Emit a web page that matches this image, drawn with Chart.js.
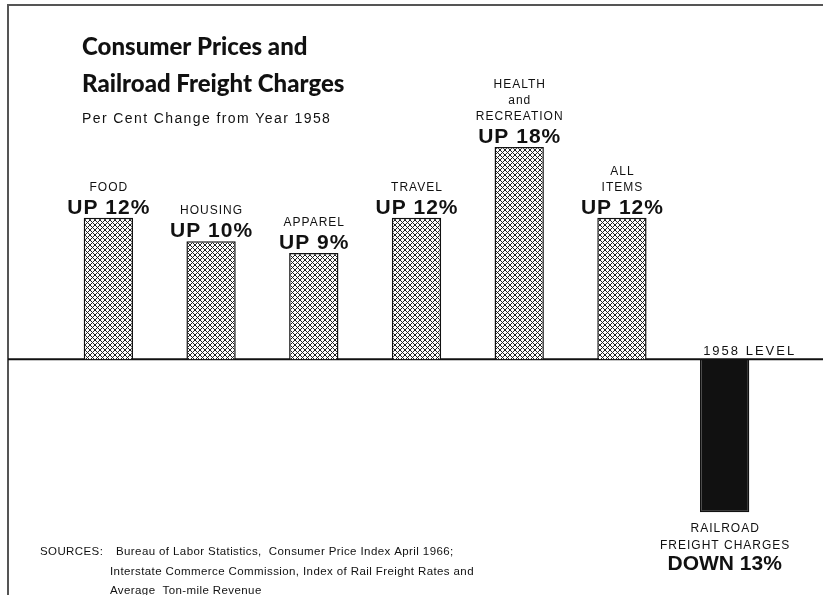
<!DOCTYPE html>
<html><head><meta charset="utf-8">
<script src="https://cdn.jsdelivr.net/npm/chart.js@4/dist/chart.umd.min.js"></script>
<style>html,body{margin:0;padding:0;background:#fff}#wrap{width:823px;height:595px;position:relative}</style>
</head><body><div id="wrap"><canvas id="c" width="823" height="595"></canvas></div>
<script>
const categories = ['FOOD','HOUSING','APPAREL','TRAVEL','HEALTH and RECREATION','ALL ITEMS','RAILROAD FREIGHT CHARGES'];
const categoryLines = [['FOOD'],['HOUSING'],['APPAREL'],['TRAVEL'],['HEALTH','and','RECREATION'],['ALL','ITEMS'],['RAILROAD','FREIGHT CHARGES']];
const changeValues = [12,10,9,12,18,12,-13];
const valueLabels = ['UP 12%','UP 10%','UP 9%','UP 12%','UP 18%','UP 12%','DOWN 13%'];
const titleLines = ['Consumer Prices and','Railroad Freight Charges'];
const subtitleText = 'Per Cent Change from Year 1958';
const baselineLabel = '1958 LEVEL';
const sourceHead = 'SOURCES:';
const sourceLines = ['Bureau of Labor Statistics,  Consumer Price Index April 1966;','Interstate Commerce Commission, Index of Rail Freight Rates and','Average  Ton-mile Revenue'];

const canvas = document.getElementById('c');
function makeHatch(){
  const t = document.createElement('canvas'); t.width = 5; t.height = 5;
  const g = t.getContext('2d');
  g.fillStyle = '#fff'; g.fillRect(0,0,5,5);
  g.strokeStyle = '#222'; g.lineWidth = 1;
  g.beginPath(); g.moveTo(-1,-1); g.lineTo(6,6); g.moveTo(6,-1); g.lineTo(-1,6); g.stroke();
  return canvas.getContext('2d').createPattern(t,'repeat');
}
const hatch = makeHatch();
const fills = changeValues.map(v => v >= 0 ? hatch : '#111');

const framePlugin = {
  id: 'frame',
  beforeDatasetsDraw(chart){
    const ctx = chart.ctx;
    const y0 = chart.scales.y.getPixelForValue(0);
    ctx.save();
    ctx.strokeStyle = '#555'; ctx.lineWidth = 2;
    ctx.beginPath(); ctx.moveTo(8,595); ctx.lineTo(8,5); ctx.lineTo(823,5); ctx.stroke();
    ctx.strokeStyle = '#111'; ctx.lineWidth = 2;
    ctx.beginPath(); ctx.moveTo(8,y0); ctx.lineTo(823,y0); ctx.stroke();
    ctx.restore();
  }
};

function ctext(ctx, s, x, y, ls){
  ctx.letterSpacing = ls + 'px';
  ctx.fillText(s, x + ls/2, y);
}

const textPlugin = {
  id: 'texts',
  afterDraw(chart){
    const ctx = chart.ctx;
    const meta = chart.getDatasetMeta(0);
    const y0 = chart.scales.y.getPixelForValue(0);
    ctx.save();
    ctx.fillStyle = '#111';
    ctx.textBaseline = 'alphabetic';
    ctx.textAlign = 'center';
    meta.data.forEach((bar, i) => {
      const x = bar.x, v = changeValues[i], lines = categoryLines[i];
      if (v >= 0) {
        const big = bar.y - 4;
        ctx.font = 'bold 21px "Liberation Sans"';
        ctext(ctx, valueLabels[i], x, big, 1);
        ctx.font = '12px "Liberation Sans"';
        let y = big - 23;
        for (let k = lines.length - 1; k >= 0; k--, y -= 16) ctext(ctx, lines[k], x, y, 1);
      } else {
        let y = bar.y + 20;
        ctx.font = '12px "Liberation Sans"';
        lines.forEach(l => { ctext(ctx, l, x, y, 1); y += 17; });
        ctx.font = 'bold 21px "Liberation Sans"';
        ctext(ctx, valueLabels[i], x, y + 4, 0);
        ctx.font = '13px "Liberation Sans"';
        ctext(ctx, baselineLabel, x + 24, y0 - 4, 2);
      }
    });
    ctx.textAlign = 'left';
    ctx.letterSpacing = '0px';
    ctx.font = '900 24px Lato';
    ctx.fillText(titleLines[0], 82, 55);
    ctx.fillText(titleLines[1], 82, 92);
    ctx.font = '14px "Liberation Sans"';
    ctx.letterSpacing = '1.4px';
    ctx.fillText(subtitleText, 82, 123);
    ctx.font = '11.5px "Liberation Sans"';
    ctx.letterSpacing = '0.4px';
    ctx.fillText(sourceHead, 40, 555);
    ctx.fillText(sourceLines[0], 116, 555);
    ctx.fillText(sourceLines[1], 110, 575);
    ctx.fillText(sourceLines[2], 110, 594);
    ctx.restore();
  }
};

new Chart(canvas, {
  type: 'bar',
  data: {
    labels: categories,
    datasets: [{
      data: changeValues,
      backgroundColor: fills,
      borderColor: '#111',
      borderWidth: 1.5,
      borderSkipped: 'start',
      barPercentage: 0.48,
      categoryPercentage: 1
    }]
  },
  options: {
    responsive: false,
    animation: false,
    devicePixelRatio: 1,
    layout: { padding: { left: 57, right: 47, top: 41, bottom: 12 } },
    plugins: { legend: { display: false }, tooltip: { enabled: false }, title: { display: false } },
    scales: {
      x: { display: false, grid: { display: false } },
      y: { display: false, min: -19, max: 27, grid: { display: false } }
    }
  },
  plugins: [framePlugin, textPlugin]
});
</script></body></html>
